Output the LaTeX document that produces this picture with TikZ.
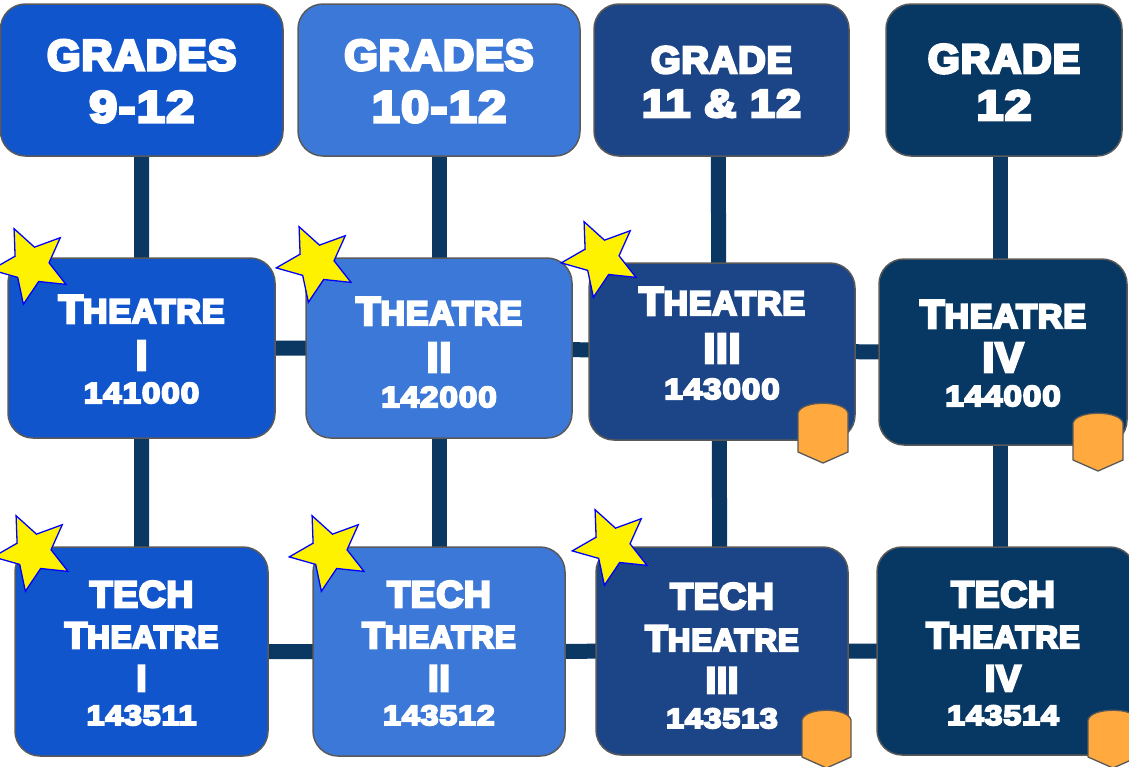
\documentclass[tikz,border=0pt]{standalone}
\usepackage{fontspec}
\usetikzlibrary{shapes.geometric}
\newfontfamily\hv{Liberation Sans Bold}[RawFeature={embolden=7},LetterSpace=2.5]
\newfontfamily\dg{Liberation Sans Bold}[RawFeature={embolden=7},FakeStretch=1.15,LetterSpace=3]
\definecolor{cA}{HTML}{1155CC}
\definecolor{cB}{HTML}{3C78D8}
\definecolor{cC}{HTML}{1C4587}
\definecolor{cD}{HTML}{073763}
\definecolor{connc}{HTML}{0B3763}
\definecolor{edgec}{HTML}{595959}
\definecolor{badgec}{HTML}{FFA93F}
\pgfdeclarelayer{bg}
\pgfsetlayers{bg,main}
\newcommand\fs[1]{\fontsize{#1}{#1}\selectfont}
\newcommand\thM{{\hv\fs{40}T\fs{34}HEATRE}}
\newcommand\thS{{\hv\fs{37}T\fs{31.5}HEATRE}}
\begin{document}
\begin{tikzpicture}[x=1pt,y=-1pt,
  box/.style={rectangle, rounded corners=25pt, draw=edgec, line width=1.5pt, inner sep=0pt},
  txt/.style={text=white, anchor=base, inner sep=0pt},
  connl/.style={draw=connc, line width=15pt},
  stardeco/.style={star, star points=5, star point ratio=2.2, minimum size=80pt, inner sep=0pt, fill=yellow, draw=blue, line width=1.3pt, rotate=25},
  badgest/.style={fill=badgec, draw=edgec, line width=1.3pt, line join=round}]
\path[use as bounding box] (0,0) rectangle (1129,766);
\clip (0,0) rectangle (1129,766);
% top row
\node[box, fill=cA, minimum width=282.5pt, minimum height=152pt] (a1) at (141.75,80) {};
\node[box, fill=cB, minimum width=282pt, minimum height=152pt] (a2) at (439,80) {};
\node[box, fill=cC, minimum width=255pt, minimum height=152pt] (a3) at (721.5,80) {};
\node[box, fill=cD, minimum width=236pt, minimum height=152pt] (a4) at (1004,80) {};
% middle row
\node[box, fill=cA, minimum width=267pt, minimum height=180pt] (b1) at (141.5,348) {};
\node[box, fill=cB, minimum width=266pt, minimum height=180pt] (b2) at (439,348) {};
\node[box, fill=cC, minimum width=266pt, minimum height=177pt] (b3) at (722,351.5) {};
\node[box, fill=cD, minimum width=248pt, minimum height=186pt] (b4) at (1003,352) {};
% bottom row
\node[box, fill=cA, minimum width=253pt, minimum height=209pt] (c1) at (141.5,651.5) {};
\node[box, fill=cB, minimum width=252pt, minimum height=209pt] (c2) at (439,651.5) {};
\node[box, fill=cC, minimum width=252pt, minimum height=208pt] (c3) at (722,651) {};
\node[box, fill=cD, minimum width=258pt, minimum height=208pt] (c4) at (1006,651) {};
% connectors
\begin{pgfonlayer}{bg}
\draw[connl] (a1.center) -- (b1.center) -- (c1.center);
\draw[connl] (a2.center) -- (b2.center) -- (c2.center);
\draw[connl] ([xshift=-3.5pt]a3.center) -- ([xshift=-3pt]b3.center) -- ([xshift=-2pt]c3.center);
\draw[connl] ([xshift=-4pt]a4.center) -- ([xshift=-3pt]b4.center) -- ([xshift=-3pt]b4.center |- c4.center);
\draw[connl] (b1.center) -- (b2.center) -- (b3.center) -- (b4.center);
\draw[connl] (c1.center) -- (c2.center) -- (c3.center) -- (c4.center);
\end{pgfonlayer}
% texts top
\node[txt] (a1t1) at (141.75,70) {\hv\fs{43}GRADES};
\node[txt] (a1t2) at (141.75,122) {\dg\fs{44}9-12};
\node[txt] (a2t1) at (439,70) {\hv\fs{43}GRADES};
\node[txt] (a2t2) at (439,122) {\dg\fs{44}10-12};
\node[txt] (a3t1) at (721.5,73) {\hv\fs{38}GRADE};
\node[txt] (a3t2) at (721.5,117) {\dg\fs{39}11 \& 12};
\node[txt] (a4t1) at (1004,73) {\hv\fs{41}GRADE};
\node[txt] (a4t2) at (1004,120) {\dg\fs{42}12};
% texts middle
\node[txt] (b1t1) at (141.5,323) {\thM};
\node[txt] (b1t2) at (141.5,370) {\hv\fs{42}I};
\node[txt] (b1t3) at (141.5,403) {\dg\fs{29}141000};
\node[txt] (b2t1) at (439,325) {\thM};
\node[txt] (b2t2) at (439,372) {\hv\fs{42}II};
\node[txt] (b2t3) at (439,407) {\dg\fs{29}142000};
\node[txt] (b3t1) at (722,315) {\thM};
\node[txt] (b3t2) at (722,363) {\hv\fs{42}III};
\node[txt] (b3t3) at (722,399) {\dg\fs{29}143000};
\node[txt] (b4t1) at (1003,328) {\thM};
\node[txt] (b4t2) at (1003,372) {\hv\fs{42}IV};
\node[txt] (b4t3) at (1003,406) {\dg\fs{29}144000};
% texts bottom
\node[txt] (c1t1) at (141.5,607) {\hv\fs{37}TECH};
\node[txt] (c1t2) at (141.5,648) {\thS};
\node[txt] (c1t3) at (141.5,691) {\hv\fs{37}I};
\node[txt] (c1t4) at (141.5,725) {\dg\fs{28}143511};
\node[txt] (c2t1) at (439,607) {\hv\fs{37}TECH};
\node[txt] (c2t2) at (439,648) {\thS};
\node[txt] (c2t3) at (439,691) {\hv\fs{37}II};
\node[txt] (c2t4) at (439,725) {\dg\fs{28}143512};
\node[txt] (c3t1) at (722,609) {\hv\fs{37}TECH};
\node[txt] (c3t2) at (722,651) {\thS};
\node[txt] (c3t3) at (722,693) {\hv\fs{37}III};
\node[txt] (c3t4) at (722,728) {\dg\fs{28}143513};
\node[txt] (c4t1) at (1003,607) {\hv\fs{37}TECH};
\node[txt] (c4t2) at (1003,648) {\thS};
\node[txt] (c4t3) at (1003,691) {\hv\fs{37}IV};
\node[txt] (c4t4) at (1003,725) {\dg\fs{28}143514};
% stars
\node[stardeco] (s1) at (31,265) {};
\node[stardeco] (s2) at (316,263) {};
\node[stardeco] (s3) at (601,258) {};
\node[stardeco] (s4) at (33,552) {};
\node[stardeco] (s5) at (329,552) {};
\node[stardeco] (s6) at (612,546) {};
% badges
\draw[badgest] (798,413) .. controls (801,400) and (845,400) .. (848,413) -- (848,452) -- (823,463) -- (798,452) -- cycle;
\draw[badgest] (1073,423) .. controls (1076,410) and (1120,410) .. (1123,423) -- (1123,460) -- (1098,471) -- (1073,460) -- cycle;
\draw[badgest] (802,720) .. controls (805,707) and (848,707) .. (851,720) -- (851,757) -- (826.5,768) -- (802,757) -- cycle;
\draw[badgest] (1088,720) .. controls (1091,707) and (1135,707) .. (1138,720) -- (1138,757) -- (1113,768) -- (1088,757) -- cycle;
\end{tikzpicture}
\end{document}
